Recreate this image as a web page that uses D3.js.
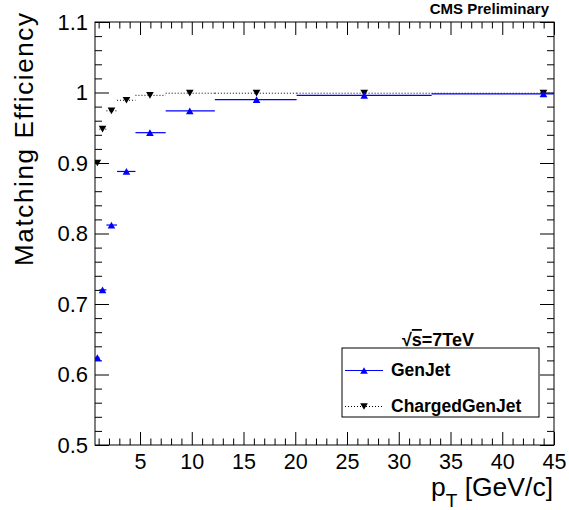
<!DOCTYPE html>
<html>
<head>
<meta charset="utf-8">
<script src="https://cdn.jsdelivr.net/npm/d3@7"></script>
<style>
  body { margin: 0; background: #fff; }
  svg { display: block; }
  text { font-family: "Liberation Sans", Arial, Helvetica, sans-serif; fill: #000; }
</style>
</head>
<body>
<svg id="chart" width="569" height="510"></svg>
<script>
// pT bins (lower / upper edges) and mean pT of each bin
const binLow  = [0.65, 1.07, 1.75, 2.78, 4.56, 7.48, 12.23, 20.13, 33.18];
const binHigh = [1.07, 1.75, 2.78, 4.56, 7.48, 12.23, 20.13, 33.18, 54.5];
const ptMean  = [0.88, 1.38, 2.24, 3.69, 5.96, 9.81, 16.26, 26.66, 43.98];

// matching efficiency per bin
const genJetEff     = [0.624, 0.720, 0.812, 0.888, 0.943, 0.974, 0.990, 0.996, 0.998];
const chargedJetEff = [0.900, 0.948, 0.974, 0.989, 0.996, 0.999, 0.999, 0.999, 0.999];

// axis ticks
const xMajor = [5, 10, 15, 20, 25, 30, 35, 40, 45];
const yMajor = [0.5, 0.6, 0.7, 0.8, 0.9, 1.0, 1.1];

const L = 95, R = 554, T = 22, B = 445;

const svg = d3.select("#chart");
const x = d3.scaleLinear().domain([0.65, 45]).range([L, R]);
const y = d3.scaleLinear().domain([0.5, 1.1]).range([B, T]);

const xMinor = d3.range(1, 45).filter(v => v % 5 !== 0);
const yMinor = d3.range(26, 55).map(v => v / 50).filter(v => Math.round(v * 50) % 5 !== 0);

function styleAxis(g) {
  g.select(".domain").remove();
  g.selectAll("line").attr("stroke", "#000").attr("stroke-width", 1);
}

// bottom axis
svg.append("g").attr("transform", `translate(0,${B})`)
  .call(d3.axisBottom(x).tickValues(xMajor).tickSizeInner(-13).tickSizeOuter(0)
        .tickPadding(9).tickFormat(d3.format("d")))
  .call(styleAxis)
  .call(g => g.selectAll("text").style("font-size", "21.5px").attr("fill", "#000"));
svg.append("g").attr("transform", `translate(0,${B})`)
  .call(d3.axisBottom(x).tickValues(xMinor).tickSizeInner(-6.5).tickSizeOuter(0).tickFormat(""))
  .call(styleAxis);

// top axis (mirror ticks)
svg.append("g").attr("transform", `translate(0,${T})`)
  .call(d3.axisTop(x).tickValues(xMajor).tickSizeInner(-13).tickSizeOuter(0).tickFormat(""))
  .call(styleAxis);
svg.append("g").attr("transform", `translate(0,${T})`)
  .call(d3.axisTop(x).tickValues(xMinor).tickSizeInner(-6.5).tickSizeOuter(0).tickFormat(""))
  .call(styleAxis);

// left axis
svg.append("g").attr("transform", `translate(${L},0)`)
  .call(d3.axisLeft(y).tickValues(yMajor).tickSizeInner(-14).tickSizeOuter(0)
        .tickPadding(7).tickFormat(d3.format("~g")))
  .call(styleAxis)
  .call(g => g.selectAll("text").style("font-size", "22px").attr("fill", "#000"));
svg.append("g").attr("transform", `translate(${L},0)`)
  .call(d3.axisLeft(y).tickValues(yMinor).tickSizeInner(-7).tickSizeOuter(0).tickFormat(""))
  .call(styleAxis);

// right axis (mirror ticks)
svg.append("g").attr("transform", `translate(${R},0)`)
  .call(d3.axisRight(y).tickValues(yMajor).tickSizeInner(-14).tickSizeOuter(0).tickFormat(""))
  .call(styleAxis);
svg.append("g").attr("transform", `translate(${R},0)`)
  .call(d3.axisRight(y).tickValues(yMinor).tickSizeInner(-7).tickSizeOuter(0).tickFormat(""))
  .call(styleAxis);

// frame
svg.append("rect").attr("x", L).attr("y", T).attr("width", R - L).attr("height", B - T)
  .attr("fill", "none").attr("stroke", "#000").attr("stroke-width", 1);

// clip for data
svg.append("clipPath").attr("id", "plotArea")
  .append("rect").attr("x", L).attr("y", T).attr("width", R - L).attr("height", B - T);

// triangle markers
const triUp = { draw(ctx, size) { const r = Math.sqrt(size) / 2, h = r * 0.88;
  ctx.moveTo(-r, h); ctx.lineTo(r, h); ctx.lineTo(0, -h); ctx.closePath(); } };
const triDown = { draw(ctx, size) { const r = Math.sqrt(size) / 2, h = r * 0.88;
  ctx.moveTo(-r, -h); ctx.lineTo(r, -h); ctx.lineTo(0, h); ctx.closePath(); } };
const markerSize = 58;

const bins = ptMean.map((pt, i) => ({ pt, lo: binLow[i], hi: binHigh[i], gen: genJetEff[i], chg: chargedJetEff[i] }));

const data = svg.append("g").attr("clip-path", "url(#plotArea)");

// ChargedGenJet: dotted x error bars + downward triangles
data.append("g").selectAll("line").data(bins).join("line")
  .attr("x1", d => x(d.lo)).attr("x2", d => x(d.hi))
  .attr("y1", d => y(d.chg)).attr("y2", d => y(d.chg))
  .attr("stroke", "#000").attr("stroke-width", 1).attr("stroke-dasharray", "1,2");

// GenJet: solid blue x error bars
data.append("g").selectAll("line").data(bins).join("line")
  .attr("x1", d => x(d.lo)).attr("x2", d => x(d.hi))
  .attr("y1", d => y(d.gen)).attr("y2", d => y(d.gen))
  .attr("stroke", "#0000ff").attr("stroke-width", 1.2);

data.append("g").selectAll("path").data(bins).join("path")
  .attr("transform", d => `translate(${x(d.pt)},${y(d.chg)})`)
  .attr("d", d3.symbol(triDown, markerSize)).attr("fill", "#000");

data.append("g").selectAll("path").data(bins).join("path")
  .attr("transform", d => `translate(${x(d.pt)},${y(d.gen)})`)
  .attr("d", d3.symbol(triUp, markerSize)).attr("fill", "#0000ff");

// axis titles
svg.append("text")
  .attr("transform", "translate(33,13) rotate(-90)")
  .attr("text-anchor", "end").style("font-size", "26px")
  .attr("textLength", 253).attr("lengthAdjust", "spacing")
  .text("Matching Efficiency");

const xt = svg.append("text").attr("x", 553).attr("y", 496)
  .attr("text-anchor", "end").style("font-size", "26.5px");
xt.append("tspan").text("p");
xt.append("tspan").attr("dy", 11).style("font-size", "19px").text("T");
xt.append("tspan").attr("dy", -11).text(" [GeV/c]");

// header
svg.append("text").attr("x", 549).attr("y", 14).attr("text-anchor", "end")
  .style("font-size", "15px").style("font-weight", "bold").text("CMS Preliminary");

// legend
const leg = svg.append("g");
const lsqrt = leg.append("text").attr("x", 438).attr("y", 346).attr("text-anchor", "middle")
  .style("font-size", "18px").style("font-weight", "bold");
lsqrt.append("tspan").text("√");
lsqrt.append("tspan").style("text-decoration", "overline").text("s");
lsqrt.append("tspan").text("=7TeV");

leg.append("rect").attr("x", 342).attr("y", 348).attr("width", 197).attr("height", 69)
  .attr("fill", "#fff").attr("stroke", "#000").attr("stroke-width", 1);

const entries = [
  { label: "GenJet", color: "#0000ff", dash: null, sym: triUp, yy: 370.5 },
  { label: "ChargedGenJet", color: "#000", dash: "1,2", sym: triDown, yy: 406.5 }
];
entries.forEach(e => {
  leg.append("line").attr("x1", 345).attr("x2", 383).attr("y1", e.yy).attr("y2", e.yy)
    .attr("stroke", e.color).attr("stroke-width", e.dash ? 1 : 1.2)
    .attr("stroke-dasharray", e.dash);
  leg.append("path").attr("transform", `translate(364,${e.yy})`)
    .attr("d", d3.symbol(e.sym, markerSize)).attr("fill", e.color);
  leg.append("text").attr("x", 391).attr("y", e.yy + 5.5)
    .style("font-size", "17.5px").style("font-weight", "bold").text(e.label);
});
</script>
</body>
</html>
